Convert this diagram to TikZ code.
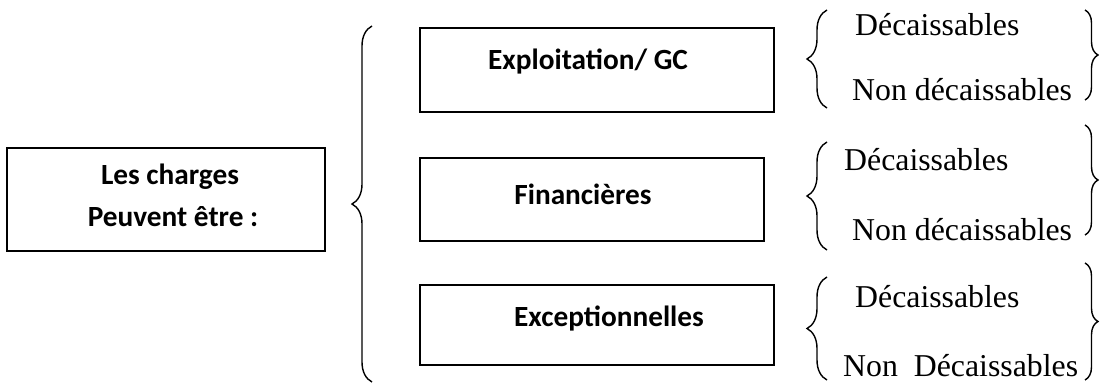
\documentclass[tikz,border=0pt]{standalone}
\usepackage{fontspec}
\setmainfont{Liberation Serif}
\newfontfamily\carlfont{Carlito}
\usetikzlibrary{decorations.pathreplacing}
\tikzset{
  box/.style={draw=black, line width=1.9pt, rectangle, inner sep=0pt},
  boxtext/.style={inner sep=0pt, anchor=base, font=\carlfont\bfseries\fontsize{29.3}{34}\selectfont},
  itemtext/.style={inner sep=0pt, anchor=base west, font=\fontsize{31.8}{38}\selectfont},
  curly/.style={decorate, line width=1.4pt, decoration={brace, amplitude=#1}},
}
\begin{document}
\begin{tikzpicture}[x=1pt, y=-1pt]
\useasboundingbox (0,0) rectangle (1102,383);

% main box
\node[box, minimum width=318pt, minimum height=103pt] (main) at (166,199.5) {};
\node[boxtext] (l1) at (170,184) {Les charges};
\node[boxtext] (l2) at (173,226) {Peuvent être :};

% large brace
\coordinate (bigtop) at (372,26);
\coordinate (bigbot) at (372,382);
\draw[curly=20pt] (bigbot) -- (bigtop);

% category boxes
\node[box, minimum width=354pt, minimum height=84pt] (exp) at (597,70) {};
\node[boxtext] (t1) at (588,69) {Exploitation/ GC};
\node[box, minimum width=344pt, minimum height=83pt] (fin) at (592,199.5) {};
\node[boxtext] (t2) at (583,204) {Financières};
\node[box, minimum width=354pt, minimum height=80pt] (exc) at (597,325) {};
\node[boxtext] (t3) at (609,326) {Exceptionnelles};

% group 1
\coordinate (a1) at (827,10);  \coordinate (a2) at (827,108);
\coordinate (r1) at (1085,10); \coordinate (r2) at (1085,100);
\draw[curly=20pt] (a2) -- (a1);
\draw[curly=13pt] (r1) -- (r2);
\node[itemtext] (g1a) at (855,35) {Décaissables};
\node[itemtext] (g1b) at (852,100) {Non décaissables};

% group 2
\coordinate (b1) at (827,142);  \coordinate (b2) at (827,250);
\coordinate (s1) at (1085,125); \coordinate (s2) at (1085,235);
\draw[curly=20pt] (b2) -- (b1);
\draw[curly=13pt] (s1) -- (s2);
\node[itemtext] (g2a) at (844,170) {Décaissables};
\node[itemtext] (g2b) at (852,240) {Non décaissables};

% group 3
\coordinate (c1) at (827,277);  \coordinate (c2) at (827,380);
\coordinate (u1) at (1085,263); \coordinate (u2) at (1085,380);
\draw[curly=20pt] (c2) -- (c1);
\draw[curly=13pt] (u1) -- (u2);
\node[itemtext] (g3a) at (855,307) {Décaissables};
\node[itemtext] (g3b) at (843,376) {Non\ \ Décaissables};
\end{tikzpicture}
\end{document}
